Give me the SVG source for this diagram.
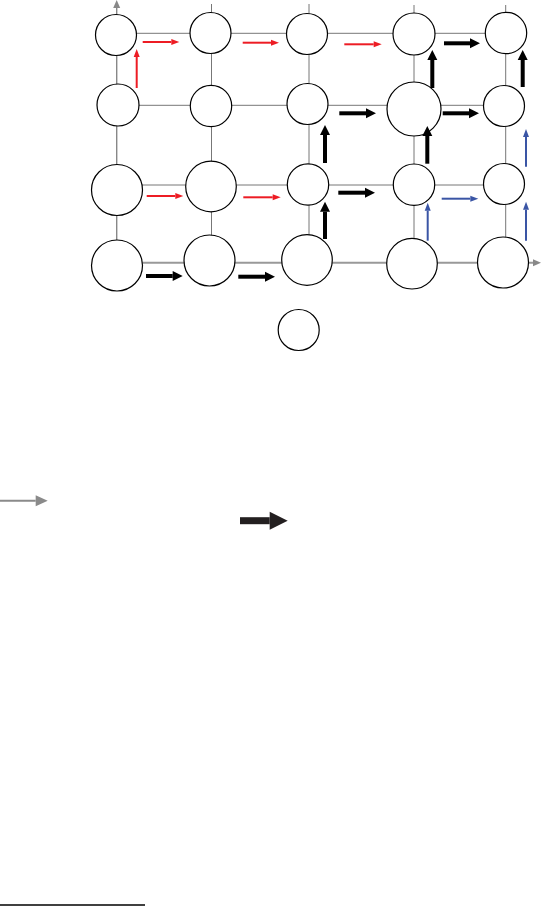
<svg xmlns="http://www.w3.org/2000/svg" width="542" height="906" viewBox="0 0 542 906">
<style>
.node{fill:#fff;stroke:#000;stroke-width:1.2}
.grid{stroke:#777;stroke-width:1;fill:none}
.axis{stroke:#999;stroke-width:2;fill:none}
.red{stroke:#ed1c24;stroke-width:2;fill:none;marker-end:url(#hr)}
.blue{stroke:#3a55a5;stroke-width:2;fill:none;marker-end:url(#hb)}
.blk{stroke:#000;stroke-width:4;fill:none;marker-end:url(#hk)}
</style>
<defs>
<marker id="hr" markerUnits="userSpaceOnUse" markerWidth="8" markerHeight="6" refX="0" refY="3" orient="auto" overflow="visible"><path d="M0,0 L8,3 L0,6 z" fill="#ed1c24"/></marker>
<marker id="hb" markerUnits="userSpaceOnUse" markerWidth="8" markerHeight="6" refX="0" refY="3" orient="auto" overflow="visible"><path d="M0,0 L8,3 L0,6 z" fill="#3a55a5"/></marker>
<marker id="hk" markerUnits="userSpaceOnUse" markerWidth="10" markerHeight="10" refX="0" refY="5" orient="auto" overflow="visible"><path d="M0,0 L10,5 L0,10 z" fill="#000"/></marker>
<marker id="hg" markerUnits="userSpaceOnUse" markerWidth="8" markerHeight="7" refX="0" refY="3.5" orient="auto" overflow="visible"><path d="M0,0 L8,3.5 L0,7 z" fill="#888"/></marker>
<marker id="hgl" markerUnits="userSpaceOnUse" markerWidth="12" markerHeight="11" refX="0" refY="5.5" orient="auto" overflow="visible"><path d="M0,0 L12,5.5 L0,11 z" fill="#8a8a8a"/></marker>
<marker id="hkl" markerUnits="userSpaceOnUse" markerWidth="18" markerHeight="18" refX="0" refY="9" orient="auto" overflow="visible"><path d="M0,0 L18,9 L0,18 z" fill="#231f20"/></marker>
</defs>
<g id="grid">
<line class="grid" x1="116.7" y1="33.3" x2="505.7" y2="33.3"/>
<line class="grid" x1="118" y1="105.3" x2="505.7" y2="105.3"/>
<line class="grid" x1="117" y1="185" x2="505.7" y2="185"/>
<line x1="116.7" y1="265" x2="116.7" y2="8" style="stroke:#888;stroke-width:1.4" marker-end="url(#hg)"/>
<line class="grid" x1="211.5" y1="4" x2="211.5" y2="262"/>
<line class="grid" x1="309" y1="4" x2="309" y2="262"/>
<line class="grid" x1="414" y1="5" x2="414" y2="262"/>
<line class="grid" x1="505.7" y1="5" x2="505.7" y2="262"/>
<line class="axis" x1="117" y1="262.7" x2="533" y2="262.7" marker-end="url(#hg)"/>
</g>
<g id="n11"><circle class="node" cx="116" cy="35" r="20.5"/></g>
<g id="n12"><circle class="node" cx="210.5" cy="33" r="20.5"/></g>
<g id="n13"><circle class="node" cx="307" cy="34" r="20.5"/></g>
<g id="n14"><circle class="node" cx="414" cy="34" r="21"/></g>
<g id="n15"><circle class="node" cx="506" cy="33" r="20.7"/></g>
<g id="n21"><circle class="node" cx="118" cy="105" r="21"/></g>
<g id="n22"><circle class="node" cx="211" cy="106" r="20.7"/></g>
<g id="n23"><circle class="node" cx="307.5" cy="104" r="20.5"/></g>
<g id="n24"><circle class="node" cx="414" cy="109" r="27"/></g>
<g id="n25"><circle class="node" cx="504" cy="106" r="20.5"/></g>
<g id="n31"><circle class="node" cx="117" cy="190" r="25.5"/></g>
<g id="n32"><circle class="node" cx="211" cy="186.5" r="25.3"/></g>
<g id="n33"><circle class="node" cx="308" cy="184.5" r="20.7"/></g>
<g id="n34"><circle class="node" cx="414" cy="184.7" r="20.7"/></g>
<g id="n35"><circle class="node" cx="504" cy="184" r="20.5"/></g>
<g id="n41"><circle class="node" cx="117" cy="265.5" r="25.5"/></g>
<g id="n42"><circle class="node" cx="209.5" cy="260.5" r="25.5"/></g>
<g id="n43"><circle class="node" cx="307" cy="260" r="25.3"/></g>
<g id="n44"><circle class="node" cx="412" cy="263.7" r="25.3"/></g>
<g id="n45"><circle class="node" cx="503" cy="262.5" r="25.5"/></g>
<g id="n50"><circle class="node" cx="298.7" cy="330" r="20.5"/></g>
<g id="connectors">
<line class="red" x1="136.7" y1="88" x2="136.7" y2="57"/>
<line class="red" x1="142.7" y1="42" x2="171.3" y2="42"/>
<line class="red" x1="242.7" y1="42.7" x2="271" y2="42.7"/>
<line class="red" x1="344.3" y1="44.3" x2="373.7" y2="44.3"/>
<line class="red" x1="146.7" y1="196" x2="175.3" y2="196"/>
<line class="red" x1="243.3" y1="197.3" x2="272.7" y2="197.3"/>
<line class="blk" x1="444" y1="43.3" x2="470" y2="43.3"/>
<line class="blk" x1="432.3" y1="88" x2="432.3" y2="60"/>
<line class="blk" x1="522.7" y1="87" x2="522.7" y2="60"/>
<line class="blk" x1="339.3" y1="113.3" x2="366" y2="113.3"/>
<line class="blk" x1="442.7" y1="113.3" x2="469" y2="113.3"/>
<line class="blk" x1="325" y1="163" x2="325" y2="135"/>
<line class="blk" x1="427.3" y1="163.7" x2="427.3" y2="136"/>
<line class="blk" x1="338.3" y1="192.7" x2="365" y2="192.7"/>
<line class="blk" x1="325" y1="239" x2="325" y2="211.7"/>
<line class="blk" x1="146" y1="276" x2="172.7" y2="276"/>
<line class="blk" x1="238.3" y1="276.7" x2="265" y2="276.7"/>
<line class="blue" x1="526" y1="166.7" x2="526" y2="137"/>
<line class="blue" x1="441.7" y1="198.7" x2="470.3" y2="198.7"/>
<line class="blue" x1="427.7" y1="240.7" x2="427.7" y2="210.7"/>
<line class="blue" x1="526" y1="240.7" x2="526" y2="209.7"/>
</g>
<g id="legend">
<line x1="0" y1="500.7" x2="35.7" y2="500.7" stroke="#8a8a8a" stroke-width="2" marker-end="url(#hgl)"/>
<line x1="240" y1="520.7" x2="269.7" y2="520.7" stroke="#231f20" stroke-width="7" marker-end="url(#hkl)"/>
<line x1="0" y1="905" x2="145" y2="905" stroke="#000" stroke-width="1.5"/>
</g>
</svg>
